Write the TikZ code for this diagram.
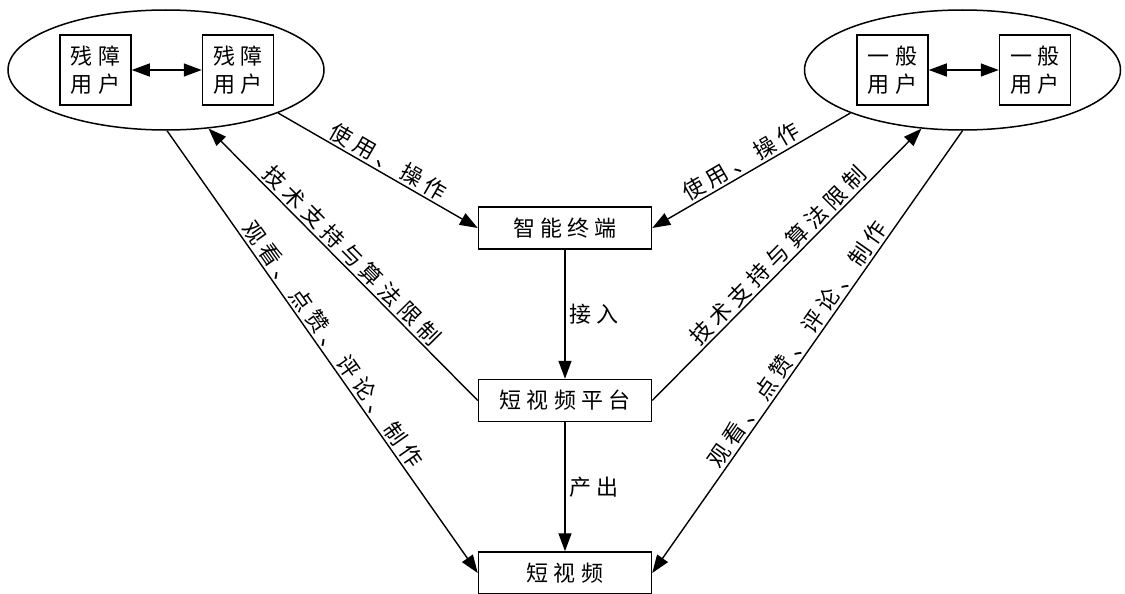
\documentclass[tikz,border=0pt]{standalone}
\usepackage{fontspec}
\newfontfamily\cjk[LetterSpace=24]{Noto Sans CJK SC}
\usetikzlibrary{positioning,arrows.meta,shapes.geometric}

\begin{document}
\begin{tikzpicture}[
  x=1pt, y=1pt,
  txt/.style={font=\cjk\fontsize{22}{28}\selectfont},
  grp/.style={draw, ellipse, line width=1.5pt, minimum width=316pt, minimum height=120pt},
  user/.style={txt, draw, line width=1.5pt, align=center, inner sep=0pt, minimum width=71pt, minimum height=70pt},
  mid/.style={txt, draw, line width=1.5pt, inner sep=0pt, minimum width=173pt, minimum height=42pt},
  arr/.style={-{Triangle[length=18pt,width=13pt]}, line width=1.4pt},
  darr/.style={{Triangle[length=18pt,width=13pt]}-{Triangle[length=18pt,width=13pt]}, line width=1.4pt},
  lbl/.style={txt, sloped, above, inner sep=2pt}
]
\useasboundingbox (0,0) rectangle (1125,-594);
% user groups
\node[grp] (ellL) at (166,-70) {};
\node[grp] (ellR) at (962.5,-70) {};
\node[user] (dA1) at (95.5,-70) {残障\\用户};
\node[user, right=70pt of dA1] (dA2) {残障\\用户};
\node[user] (gB1) at (892.5,-70) {一般\\用户};
\node[user, right=70pt of gB1] (gB2) {一般\\用户};
\draw[darr] (dA1) -- (dA2);
\draw[darr] (gB1) -- (gB2);
% middle column
\node[mid] (term) at (565,-228) {智能终端};
\node[mid, below=129pt of term] (plat) {短视频平台};
\node[mid, below=129pt of plat] (video) {短视频};
\draw[arr] (term) -- node[txt, right]{接入} (plat);
\draw[arr] (plat) -- node[txt, right]{产出} (video);
% left side
\draw[arr] (ellL.-21) -- node[lbl, pos=0.52]{使用、操作} (term.west);
\draw[arr] (plat.west) -- node[lbl]{技术支持与算法限制} (ellL.-54);
\draw[arr] (ellL.-89) -- node[lbl]{观看、点赞、评论、制作} (video.west);
% right side
\draw[arr] (ellR.-159) -- node[lbl, pos=0.52]{使用、操作} (term.east);
\draw[arr] (plat.east) -- node[lbl]{技术支持与算法限制} (ellR.-125);
\draw[arr] (ellR.-90) -- node[lbl]{观看、点赞、评论、制作} (video.east);
\end{tikzpicture}
\end{document}
